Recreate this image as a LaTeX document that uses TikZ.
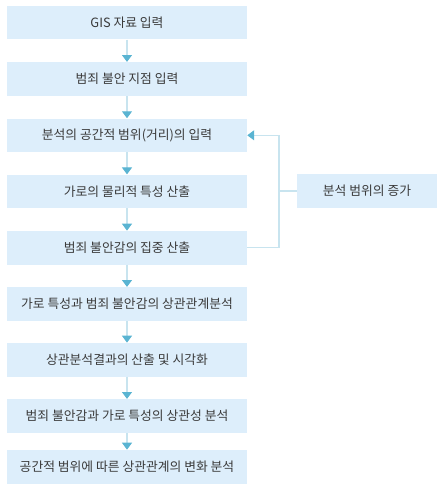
\documentclass[tikz,border=0pt]{standalone}
\usepackage{fontspec}
\setmainfont{Noto Sans CJK KR}
\usetikzlibrary{arrows.meta}
\definecolor{boxfill}{HTML}{DDEEFB}
\definecolor{linec}{HTML}{C8E4EF}
\definecolor{tipc}{HTML}{5AB4D2}
\definecolor{txt}{HTML}{3A3A3A}
\begin{document}
\begin{tikzpicture}[x=0.75pt,y=-0.75pt,
  stepbox/.style={fill=boxfill,draw=none,minimum width=180pt,minimum height=25.2pt,inner sep=0pt,
    font=\fontsize{9.6pt}{11pt}\selectfont,text=txt},
  sidebox/.style={stepbox,minimum width=105pt},
  conn/.style={draw=linec,line width=0.8pt,-{Triangle[width=7.5pt,length=5.2pt,color=tipc]}},
  plain/.style={draw=linec,line width=0.8pt}]
\useasboundingbox (0,0) rectangle (441,490);
\node[stepbox] (b1) at (127,22.5) {GIS 자료 입력};
\node[stepbox] (b2) at (127,79) {범죄 불안 지점 입력};
\node[stepbox] (b3) at (127,135.3) {분석의 공간적 범위(거리)의 입력};
\node[stepbox] (b4) at (127,191.4) {가로의 물리적 특성 산출};
\node[stepbox] (b5) at (127,247.7) {범죄 불안감의 집중 산출};
\node[stepbox] (b6) at (127,304) {가로 특성과 범죄 불안감의 상관관계분석};
\node[stepbox] (b7) at (127,359.7) {상관분석결과의 산출 및 시각화};
\node[stepbox] (b8) at (127,416) {범죄 불안감과 가로 특성의 상관성 분석};
\node[stepbox] (b9) at (127,466.7) {공간적 범위에 따른 상관관계의 변화 분석};
\node[sidebox] (s) at (367,191) {분석 범위의 증가};
\foreach \a/\b in {b1/b2,b2/b3,b3/b4,b4/b5,b5/b6,b6/b7,b7/b8,b8/b9}
  \draw[conn] (\a.south) -- (\b.north);
\coordinate (j) at (279,191);
\draw[plain] (b5.east) -| (j);
\draw[conn] (j) |- (b3.east);
\draw[plain] (j) -- (s.west);
\end{tikzpicture}
\end{document}
